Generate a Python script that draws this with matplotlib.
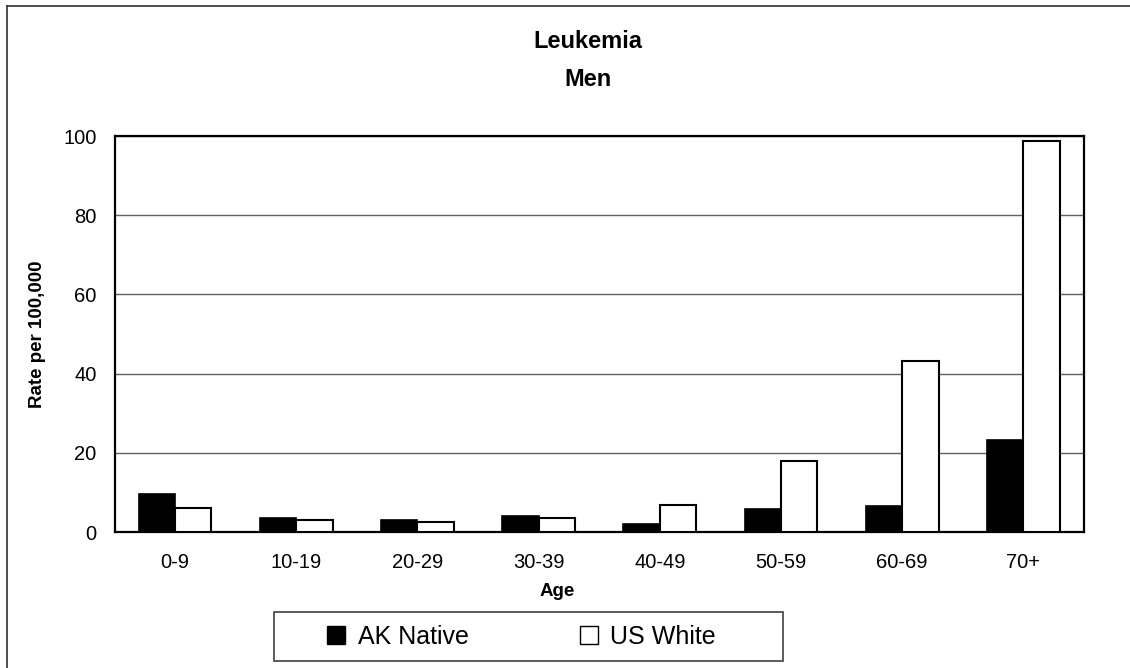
import matplotlib
matplotlib.use("Agg")
import matplotlib.pyplot as plt
import numpy as np
from matplotlib.lines import Line2D
from matplotlib.patches import Rectangle

plt.rcParams['font.family'] = ['Liberation Sans', 'DejaVu Sans']

categories = ["0-9", "10-19", "20-29", "30-39", "40-49", "50-59", "60-69", "70+"]
ak_native = [9.6, 3.5, 3.1, 4.0, 2.0, 5.7, 6.6, 23.2]
us_white = [6.0, 3.0, 2.5, 3.45, 6.9, 18.0, 43.1, 98.7]
yticks = [0, 20, 40, 60, 80, 100]

W, H = 1130, 668
fig = plt.figure(figsize=(W / 100, H / 100), dpi=100)
fig.patch.set_facecolor('white')

# outer border (left and top visible)
fig.add_artist(Line2D([7 / W, 7 / W], [0, 1 - 6 / H], transform=fig.transFigure,
                      color='#404040', lw=1.3))
fig.add_artist(Line2D([7 / W, 1], [1 - 6 / H, 1 - 6 / H], transform=fig.transFigure,
                      color='#404040', lw=1.3))

ax = fig.add_axes([114.5 / W, (H - 532) / H, (1084 - 114.5) / W, (532 - 136) / H])
x = np.arange(len(categories))
bw = 0.3
ax.bar(x - bw / 2, ak_native, bw, color='black', edgecolor='black', linewidth=1.2,
       zorder=3, label='AK Native')
ax.bar(x + bw / 2, us_white, bw, color='white', edgecolor='black', linewidth=1.5,
       zorder=3, label='US White')

ax.set_xlim(-0.5, len(categories) - 0.5)
ax.set_ylim(0, 100)
ax.set_yticks(yticks)
ax.set_xticks(x)
ax.set_xticklabels(categories)
ax.yaxis.grid(True, color='#606060', linewidth=1.0, zorder=0)
ax.tick_params(axis='both', length=0, labelsize=14.5)
ax.tick_params(axis='y', pad=13)
ax.tick_params(axis='x', pad=15)
for s in ax.spines.values():
    s.set_linewidth(1.6)
    s.set_color('black')

fig.text(38 / W, (H - 334) / H, "Rate per 100,000", rotation=90, ha='center', va='center',
         fontsize=13.5, fontweight='bold')
fig.text(557 / W, (H - 592) / H, "Age", ha='center', va='center', fontsize=13.5,
         fontweight='bold')
fig.text(588 / W, (H - 42) / H, "Leukemia", ha='center', va='center', fontsize=17,
         fontweight='bold')
fig.text(588 / W, (H - 80) / H, "Men", ha='center', va='center', fontsize=17,
         fontweight='bold')

# legend box
fig.add_artist(Rectangle((274 / W, (H - 661) / H), 509 / W, 49 / H, transform=fig.transFigure,
                         facecolor='white', edgecolor='#404040', lw=1.2))
handles = [Line2D([], [], marker='s', linestyle='none', markersize=13,
                  markerfacecolor='black', markeredgecolor='black', markeredgewidth=1.0),
           Line2D([], [], marker='s', linestyle='none', markersize=13,
                  markerfacecolor='white', markeredgecolor='black', markeredgewidth=1.0)]
leg = fig.legend(handles, ['AK Native', 'US White'], ncol=2, frameon=False,
                 loc='center left', bbox_to_anchor=(327 / W, (H - 636.5) / H),
                 fontsize=18, handlelength=0.75, handletextpad=0.5, columnspacing=4.4,
                 borderpad=0, borderaxespad=0)

fig.savefig('out.png', dpi=100, facecolor='white')
